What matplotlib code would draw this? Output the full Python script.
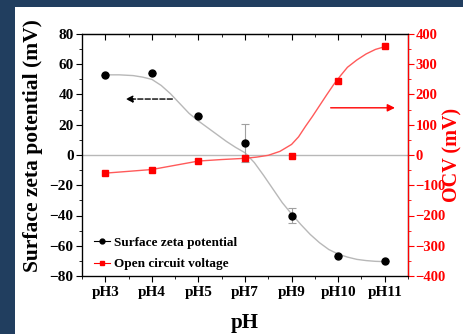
import numpy as np
import matplotlib.pyplot as plt
from matplotlib.patches import Rectangle

plt.rcParams['font.family'] = ['Liberation Serif', 'DejaVu Serif']
plt.rcParams['font.weight'] = 'bold'

# pH conditions and measurements
ph_labels = ['pH3', 'pH4', 'pH5', 'pH7', 'pH9', 'pH10', 'pH11']
zeta = [53, 54, 26, 8, -40, -67, -70]
zeta_err = [0, 0, 0, 12.5, 5, 0, 0]
ocv = [-60, -48, -20, -11, -4, 246, 361]

# fitted trend curves (category position, value)
zeta_fit_x = [0, 0.3, 0.6, 0.8, 1.0, 1.2, 1.4, 1.6, 1.8, 2.0, 2.2, 2.4, 2.6, 2.8,
              3.0, 3.2, 3.4, 3.6, 3.8, 4.0, 4.2, 4.4, 4.6, 4.8, 5.0, 5.2, 5.4,
              5.6, 5.8, 6.0]
zeta_fit_y = [53, 53, 52.5, 51.5, 50, 46, 40.5, 34, 27.5, 22.5, 18, 13.5, 9, 5,
              1.5, -5, -13.5, -22.5, -31.5, -39, -46, -52.5, -58, -62.5, -65.5,
              -67.5, -69, -69.8, -70.3, -70.5]
ocv_fit_x = [0, 0.5, 1, 1.5, 2, 2.5, 3, 3.25, 3.5, 3.75, 4.0, 4.15, 4.3, 4.45,
             4.6, 4.75, 4.9, 5.05, 5.2, 5.4, 5.6, 5.8, 6.0]
ocv_fit_y = [-60, -54, -48, -34, -20, -15, -11, -7, -1, 12, 35, 60, 95, 128,
             163, 198, 232, 262, 290, 314, 334, 349, 358]

x = np.arange(len(ph_labels))

fig = plt.figure(figsize=(4.64, 3.34), dpi=100)
fig.patch.set_facecolor('#213e5f')
fig.patches.append(Rectangle((15 / 464, 0), 1, 327 / 334, transform=fig.transFigure,
                             facecolor='white', edgecolor='none', zorder=-5))

ax = fig.add_axes([82 / 464, 58 / 334, 326 / 464, 242 / 334])
ax2 = ax.twinx()

ax.axhline(0, color='#b8b8b8', lw=1, zorder=1)
ax.plot(zeta_fit_x, zeta_fit_y, color='#b8b8b8', lw=1, zorder=2)
ax.errorbar(x, zeta, yerr=zeta_err, fmt='none', ecolor='#a0a0a0', elinewidth=0.8,
            capsize=3, capthick=0.8, zorder=3)
ax.plot(x, zeta, 'o', color='black', ms=5, zorder=4)

ax2.plot(ocv_fit_x, ocv_fit_y, color='#ff5a5a', lw=1, zorder=2)
ax2.plot(x, ocv, 's', color='red', ms=4.5, zorder=4)

# legend proxies
l1, = ax.plot([], [], '-o', color='black', ms=3.5, lw=0.8)
l2, = ax.plot([], [], '-s', color='red', ms=3.5, lw=0.8, mfc='red')
ax.legend([l1, l2], ['Surface zeta potential', 'Open circuit voltage'],
          loc='lower left', bbox_to_anchor=(0.0, -0.025), frameon=False,
          prop={'family': 'Liberation Serif', 'weight': 'bold', 'size': 9.5},
          handlelength=1.2, handletextpad=0.3, labelspacing=0.7)

# direction arrows
ax.annotate('', xy=(0.38, 37), xytext=(1.5, 37),
            arrowprops=dict(arrowstyle='-|>', color='black', lw=1, ls='--',
                            mutation_scale=10))
ax2.annotate('', xy=(6.28, 156), xytext=(4.78, 156),
             arrowprops=dict(arrowstyle='-|>', color='red', lw=1,
                             mutation_scale=11))

ax.set_xlim(-0.5, 6.5)
ax.set_ylim(-80, 80)
ax2.set_ylim(-400, 400)
ax.set_xticks(x)
ax.set_xticklabels(ph_labels)
ax.set_xticks(np.arange(-0.5, 6.6, 1), minor=True)
ax.set_yticks(np.arange(-80, 81, 20))
ax.set_yticks(np.arange(-80, 81, 10), minor=True)
ax2.set_yticks(np.arange(-400, 401, 100))
ax2.set_yticks(np.arange(-400, 401, 50), minor=True)

# inward ticks along the top edge
top = ax.secondary_xaxis('top')
top.set_xticks(x)
top.set_xticks(np.arange(-0.5, 6.6, 1), minor=True)
top.tick_params(which='both', direction='in', labeltop=False)
top.tick_params(which='major', length=4)
top.tick_params(which='minor', length=2.5)

ax.tick_params(axis='x', which='both', direction='out', labelsize=11, pad=3)
ax.tick_params(axis='x', which='major', length=4)
ax.tick_params(axis='x', which='minor', length=2.5)
ax.tick_params(axis='y', which='major', length=4, labelsize=11, pad=2)
ax.tick_params(axis='y', which='minor', length=2.5)
ax2.tick_params(axis='y', which='both', colors='red', labelsize=10.5, pad=1.5)
ax2.tick_params(axis='y', which='major', length=4)
ax2.tick_params(axis='y', which='minor', length=2.5)
ax2.spines['right'].set_color('red')

for sp in ax.spines.values():
    sp.set_linewidth(0.9)
ax2.spines['right'].set_linewidth(0.9)

ax.set_xlabel('pH', fontsize=15, fontweight='bold', labelpad=10)
ax.set_ylabel('Surface zeta potential (mV)', fontsize=15.5, fontweight='bold')
ax.yaxis.set_label_coords(-0.12, 0.54)
ax2.set_ylabel('OCV (mV)', fontsize=14.5, fontweight='bold', color='red')
ax2.yaxis.set_label_coords(1.107, 0.5)

fig.savefig('out.png', dpi=100, facecolor=fig.get_facecolor())
